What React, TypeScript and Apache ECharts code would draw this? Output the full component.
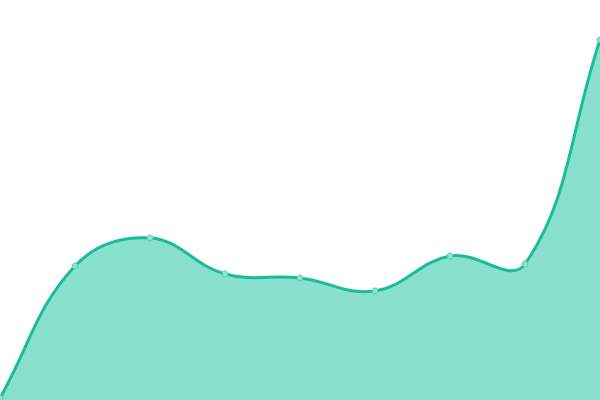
import { useEffect, useRef } from 'react'
import * as echarts from 'echarts'

const categories = ['1', '2', '3', '4', '5', '6', '7', '8', '9']
const values = [2, 134, 162, 126, 122, 109, 144, 136, 360]
const yMin = 0
const yMax = 400
const tension = 0.4

type Pt = { x: number; y: number }

// cardinal-style spline control points (no monotone clamp)
function controlPoints(pts: Pt[], area: { x: number; y: number; width: number; height: number }) {
  const cap = (p: Pt) => ({
    x: Math.min(Math.max(p.x, area.x), area.x + area.width),
    y: Math.min(Math.max(p.y, area.y), area.y + area.height),
  })
  return pts.map((cur, i) => {
    const prev = pts[i - 1] || cur
    const next = pts[i + 1] || cur
    const d01 = Math.hypot(cur.x - prev.x, cur.y - prev.y)
    const d12 = Math.hypot(next.x - cur.x, next.y - cur.y)
    let s01 = d01 / (d01 + d12)
    let s12 = d12 / (d01 + d12)
    if (isNaN(s01)) s01 = 0
    if (isNaN(s12)) s12 = 0
    const fa = tension * s01
    const fb = tension * s12
    return {
      before: cap({ x: cur.x - fa * (next.x - prev.x), y: cur.y - fa * (next.y - prev.y) }),
      after: cap({ x: cur.x + fb * (next.x - prev.x), y: cur.y + fb * (next.y - prev.y) }),
    }
  })
}

export default function App() {
  const chartRef = useRef<HTMLDivElement>(null)

  useEffect(() => {
    document.body.style.margin = '0'
    if (!chartRef.current) return
    const chart = echarts.init(chartRef.current, undefined, { renderer: 'svg' })
    chart.setOption({
      animation: false,
      grid: { top: 0, right: 0, bottom: 0, left: 0 },
      xAxis: { type: 'category', data: categories, boundaryGap: false, show: false },
      yAxis: { type: 'value', min: yMin, max: yMax, show: false },
      series: [
        {
          type: 'custom',
          data: values.map((v, i) => [i, v]),
          encode: { x: 0, y: 1 },
          z: 1,
          renderItem: (params: any, api: any) => {
            if (params.dataIndex !== 0) return null
            const pts: Pt[] = values.map((v, i) => {
              const c = api.coord([i, v])
              return { x: c[0], y: c[1] }
            })
            const cps = controlPoints(pts, params.coordSys)
            let d = `M${pts[0].x},${pts[0].y}`
            for (let i = 1; i < pts.length; i++) {
              const a = cps[i - 1].after
              const b = cps[i].before
              d += ` C${a.x},${a.y} ${b.x},${b.y} ${pts[i].x},${pts[i].y}`
            }
            const base = api.coord([0, yMin])[1]
            const last = pts[pts.length - 1]
            const areaD = `${d} L${last.x},${base} L${pts[0].x},${base} Z`
            return {
              type: 'group',
              children: [
                { type: 'path', shape: { pathData: areaD }, style: { fill: '#8ae0ce', stroke: 'none' } },
                { type: 'path', shape: { pathData: d }, style: { fill: 'none', stroke: '#1abc9c', lineWidth: 3 } },
              ],
            }
          },
        },
        {
          type: 'line',
          data: values,
          z: 2,
          symbol: 'circle',
          symbolSize: 6,
          lineStyle: { width: 0, opacity: 0 },
          itemStyle: { color: '#8ce3d0', borderColor: '#4fc9ad', borderWidth: 1 },
        },
      ],
    })
    return () => chart.dispose()
  }, [])

  return <div ref={chartRef} style={{ width: 600, height: 400 }} />
}
